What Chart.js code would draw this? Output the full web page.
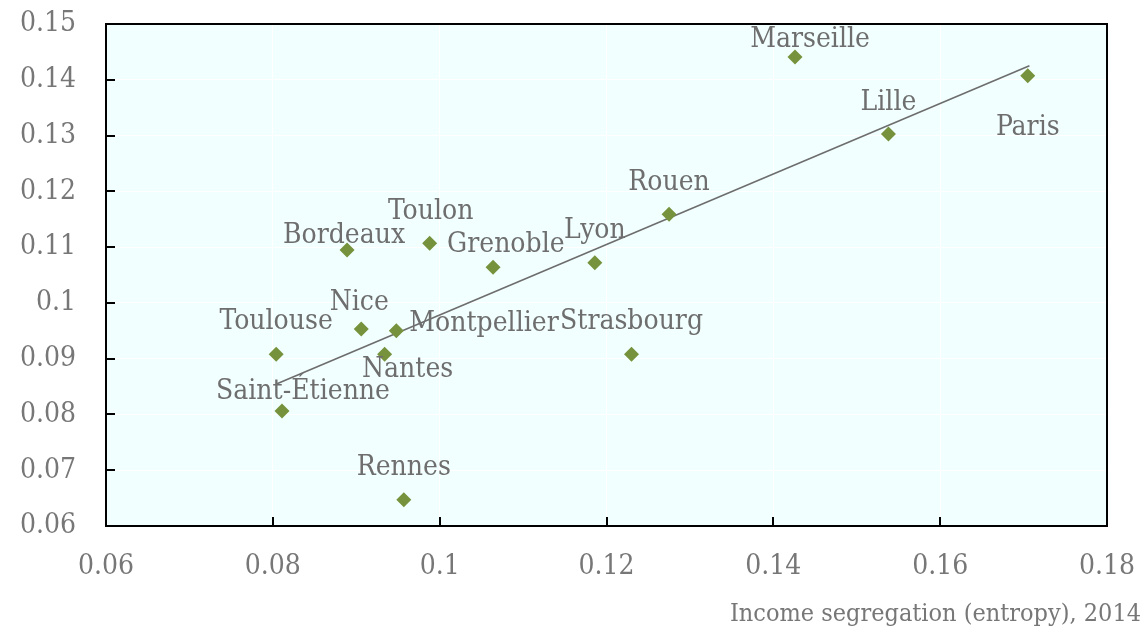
<!DOCTYPE html>
<html>
<head>
<meta charset="utf-8">
<script src="https://cdn.jsdelivr.net/npm/chart.js@4/dist/chart.umd.min.js"></script>
<style>
  html, body { margin: 0; padding: 0; background: #fff; }
  #wrap { width: 1148px; height: 630px; }
</style>
</head>
<body>
<div id="wrap"><canvas id="chart" width="1148" height="630"></canvas></div>
<script>
const cities = ['Marseille', 'Paris', 'Lille', 'Rouen', 'Lyon', 'Grenoble', 'Toulon', 'Bordeaux',
  'Nice', 'Montpellier', 'Nantes', 'Toulouse', 'Strasbourg', 'Saint-Étienne', 'Rennes'];
const segregation = [0.1426, 0.1705, 0.1538, 0.1275, 0.1186, 0.1064, 0.0988, 0.0889,
  0.0906, 0.0948, 0.0934, 0.0804, 0.1230, 0.0811, 0.0957];
const yValues = [0.1441, 0.1407, 0.1303, 0.1159, 0.1072, 0.1064, 0.1107, 0.1095,
  0.0953, 0.0950, 0.0908, 0.0908, 0.0908, 0.0806, 0.0647];
const trendX = [0.0805, 0.1707];
const trendY = [0.0855, 0.1425];
const xTickLabels = ['0.06', '0.08', '0.1', '0.12', '0.14', '0.16', '0.18'];
const yTickLabels = ['0.06', '0.07', '0.08', '0.09', '0.1', '0.11', '0.12', '0.13', '0.14', '0.15'];
const xTitle = 'Income segregation (entropy), 2014';

// label placement around each marker: [dx, dy, align]
const labelPos = {
  'Marseille': [15, -17, 'center'], 'Paris': [0, 52, 'center'], 'Lille': [0, -31, 'center'],
  'Rouen': [0, -31, 'center'], 'Lyon': [0, -32, 'center'], 'Grenoble': [-46, -22, 'left'],
  'Toulon': [1, -31, 'center'], 'Bordeaux': [-3, -14, 'center'], 'Nice': [-2, -26, 'center'],
  'Montpellier': [13, -7, 'left'], 'Nantes': [23, 16, 'center'], 'Toulouse': [0, -32, 'center'],
  'Strasbourg': [0, -32, 'center'], 'Saint-Étienne': [21, -19, 'center'], 'Rennes': [0, -32, 'center']
};

const FONT = '"DejaVu Serif Condensed", "DejaVu Serif", serif';
const TEXT = '#777777';

const frame = {
  id: 'frame',
  beforeDraw(chart) {
    const { ctx, chartArea: a } = chart;
    ctx.save();
    ctx.fillStyle = '#f2ffff';
    ctx.fillRect(a.left, a.top, a.right - a.left, a.bottom - a.top);
    ctx.restore();
  },
  afterDatasetsDraw(chart) {
    const { ctx, chartArea: a, scales } = chart;
    ctx.save();
    // city labels
    ctx.font = '28px ' + FONT;
    ctx.fillStyle = '#6e6e6e';
    ctx.textBaseline = 'middle';
    const meta = chart.getDatasetMeta(0);
    meta.data.forEach((pt, i) => {
      const p = labelPos[cities[i]] || [0, -30, 'center'];
      ctx.textAlign = p[2];
      ctx.fillText(cities[i], pt.x + p[0], pt.y + p[1]);
    });
    // inward tick marks
    ctx.strokeStyle = '#000';
    ctx.lineWidth = 2;
    ctx.beginPath();
    scales.y.ticks.forEach(t => {
      const y = Math.round(scales.y.getPixelForValue(t.value));
      ctx.moveTo(a.left, y); ctx.lineTo(a.left + 9, y);
    });
    scales.x.ticks.forEach(t => {
      const x = Math.round(scales.x.getPixelForValue(t.value));
      ctx.moveTo(x, a.bottom); ctx.lineTo(x, a.bottom - 9);
    });
    ctx.stroke();
    // frame
    ctx.lineWidth = 2;
    ctx.strokeRect(a.left, a.top, a.right - a.left, a.bottom - a.top);
    // x title
    ctx.font = '25px ' + FONT;
    ctx.fillStyle = TEXT;
    ctx.textAlign = 'right';
    ctx.textBaseline = 'middle';
    ctx.fillText(xTitle, 1141, 614);
    ctx.restore();
  }
};

new Chart(document.getElementById('chart'), {
  type: 'scatter',
  data: {
    datasets: [{
      data: segregation.map((x, i) => ({ x: x, y: yValues[i] })),
      pointStyle: 'rectRot',
      pointRadius: 7.5,
      pointHoverRadius: 7.5,
      backgroundColor: '#76923c',
      borderColor: '#76923c',
      borderWidth: 0,
      order: 1
    }, {
      type: 'line',
      data: trendX.map((x, i) => ({ x: x, y: trendY[i] })),
      borderColor: '#6d6d6d',
      borderWidth: 1.6,
      pointRadius: 0,
      fill: false,
      order: 2
    }]
  },
  options: {
    responsive: false,
    animation: false,
    layout: { padding: { top: 24, right: 41, left: 0, bottom: 0 } },
    plugins: { legend: { display: false }, tooltip: { enabled: false } },
    scales: {
      x: {
        type: 'linear', min: 0.06, max: 0.18,
        grid: { color: '#ffffff', lineWidth: 1, drawTicks: false },
        border: { display: false },
        ticks: {
          stepSize: 0.02, padding: 24, color: TEXT,
          font: { family: FONT, size: 28 },
          callback: (v, i) => xTickLabels[i]
        },
        afterFit: s => { s.height = 104; s.paddingLeft = 0; s.paddingRight = 0; }
      },
      y: {
        type: 'linear', min: 0.06, max: 0.15,
        grid: { color: '#ffffff', lineWidth: 1, drawTicks: false },
        border: { display: false },
        ticks: {
          stepSize: 0.01, padding: 30, color: TEXT,
          font: { family: FONT, size: 28 },
          callback: (v, i) => yTickLabels[i]
        },
        afterFit: s => { s.width = 106; s.paddingTop = 0; s.paddingBottom = 0; }
      }
    }
  },
  plugins: [frame]
});
</script>
</body>
</html>
